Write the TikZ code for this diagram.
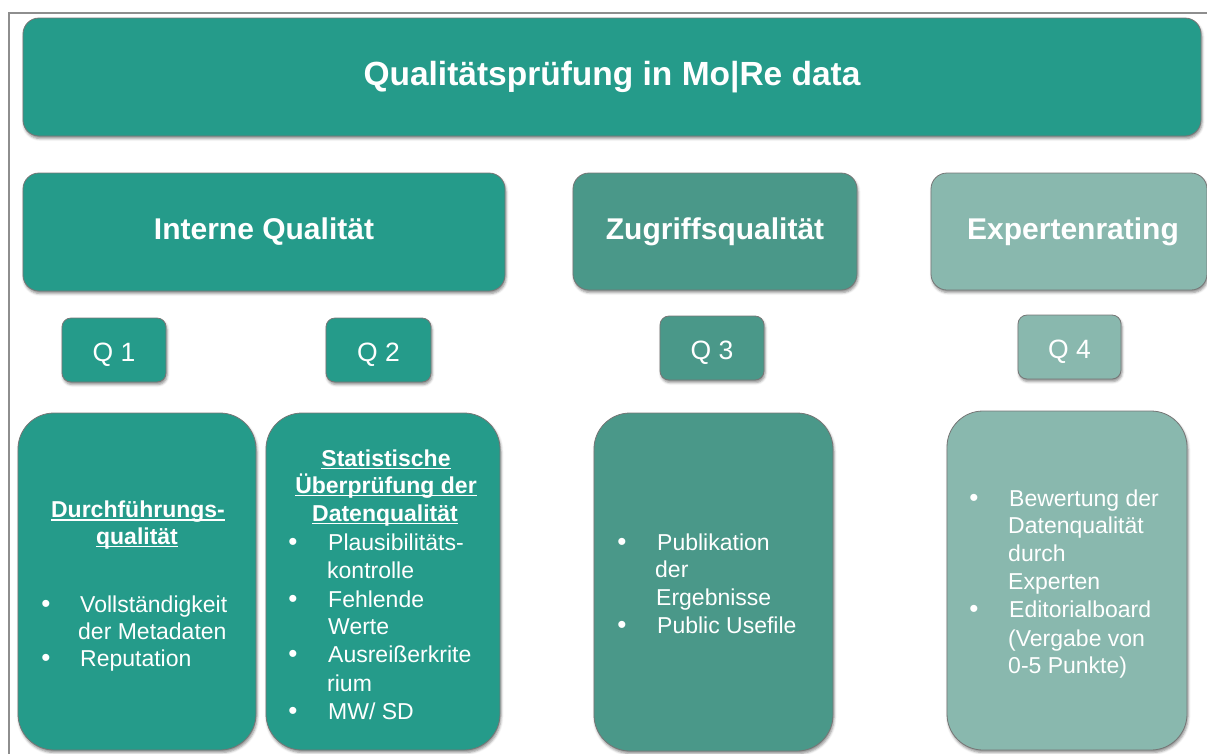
\documentclass[tikz,border=0pt]{standalone}
\usepackage{fontspec}
\setmainfont{Liberation Sans}
\usetikzlibrary{shadows.blur}

\definecolor{tealA}{HTML}{259B8A}
\definecolor{tealB}{HTML}{4A9889}
\definecolor{tealC}{HTML}{89B8AE}
\definecolor{edgegray}{HTML}{767676}
\definecolor{framegray}{HTML}{8E8E8E}

\begin{document}
\begin{tikzpicture}[x=1pt,y=-1pt,
  panel/.style={draw=edgegray, line width=0.8pt, inner sep=0pt,
    blur shadow={shadow xshift=1pt, shadow yshift=-2.5pt,
      shadow blur radius=2.5pt, shadow opacity=45}},
  bigbox/.style={panel, rounded corners=16pt},
  qbox/.style={panel, rounded corners=9pt},
  listbox/.style={panel, rounded corners=36pt},
  headtext/.style={text=white, font=\bfseries\fontsize{30}{36}\selectfont},
  qtext/.style={text=white, font=\fontsize{26.5}{32}\selectfont, text height=23pt, text depth=0pt},
  body/.style={text=white, font=\fontsize{23}{27}\selectfont, anchor=base west, inner sep=0pt},
  bul/.style={text=white, font=\fontsize{26}{30}\selectfont, anchor=base, inner sep=0pt},
  subhead/.style={text=white, font=\bfseries\fontsize{23}{27}\selectfont, anchor=base, inner sep=0pt},
  uline/.style={white, line width=1.5pt}
]
\useasboundingbox (0,0) rectangle (1207,753);
\clip (0,0) rectangle (1207,753);

% outer frame
\draw[framegray, line width=1.3pt] (9,13) rectangle (1240,790);

% title and column headers
\node[bigbox, fill=tealA, minimum width=1178pt, minimum height=118pt, headtext,
  font=\bfseries\fontsize{33.5}{40}\selectfont] (title) at (612,77)
  {Qualitätsprüfung in Mo|Re data};
\node[bigbox, fill=tealA, minimum width=482pt, minimum height=118pt, headtext] (intern) at (264,232) {Interne Qualität};
\node[bigbox, fill=tealB, minimum width=284pt, minimum height=117pt, headtext] (zugriff) at (715,231.5) {Zugriffsqualität};
\node[bigbox, fill=tealC, minimum width=276pt, minimum height=117pt, headtext] (experten) at (1069,231.5) {\hspace*{8pt}Expertenrating};

% Q labels
\node[qbox, fill=tealA, minimum width=104pt, minimum height=64pt, qtext] (q1) at (114,350) {Q 1};
\node[qbox, fill=tealA, minimum width=105pt, minimum height=64pt, qtext] (q2) at (378.5,350) {Q 2};
\node[qbox, fill=tealB, minimum width=104pt, minimum height=64pt, qtext] (q3) at (712,348) {Q 3};
\node[qbox, fill=tealC, minimum width=103pt, minimum height=64pt, qtext] (q4) at (1069.5,347) {Q 4};

% detail boxes
\node[listbox, fill=tealA, minimum width=238pt, minimum height=337pt] (d1) at (137,581.5) {};
\node[listbox, fill=tealA, minimum width=234pt, minimum height=337pt] (d2) at (383,581.5) {};
\node[listbox, fill=tealB, minimum width=239pt, minimum height=338pt] (d3) at (713.5,582) {};
\node[listbox, fill=tealC, minimum width=240pt, minimum height=339pt] (d4) at (1067,580.5) {};

% Q1 details
\node[subhead] (h1a) at (138,517.5) {Durchführungs-};
\node[subhead] (h1b) at (137,544) {qualität};
\draw[uline] ([yshift=-2.5pt]h1a.base west) -- ([yshift=-2.5pt]h1a.base east);
\draw[uline] ([yshift=-2.5pt]h1b.base west) -- ([yshift=-2.5pt]h1b.base east);
\node[bul] (p1a) at (46,612) {•};
\node[body] (t1a) at (80,612) {Vollständigkeit};
\node[body] (t1b) at (78,639) {der Metadaten};
\node[bul] (p1b) at (46,666) {•};
\node[body] (t1c) at (80,666) {Reputation};

% Q2 details
\node[subhead] (h2a) at (386,466) {Statistische};
\node[subhead] (h2b) at (386,493) {Überprüfung der};
\node[subhead] (h2c) at (385,521) {Datenqualität};
\draw[uline] ([yshift=-2.5pt]h2a.base west) -- ([yshift=-2.5pt]h2a.base east);
\draw[uline] ([yshift=-2.5pt]h2b.base west) -- ([yshift=-2.5pt]h2b.base east);
\draw[uline] ([yshift=-2.5pt]h2c.base west) -- ([yshift=-2.5pt]h2c.base east);
\node[bul] (p2a) at (293,550) {•};
\node[body] (t2a) at (328,550) {Plausibilitäts-};
\node[body] (t2b) at (327,578) {kontrolle};
\node[bul] (p2b) at (293,607) {•};
\node[body] (t2c) at (328,607) {Fehlende};
\node[body] (t2d) at (328,634) {Werte};
\node[bul] (p2c) at (293,662) {•};
\node[body] (t2e) at (328,662) {Ausreißerkrite};
\node[body] (t2f) at (327,691) {rium};
\node[bul] (p2d) at (293,719) {•};
\node[body] (t2g) at (328,719) {MW/ SD};

% Q3 details
\node[bul] (p3a) at (622,550) {•};
\node[body] (t3a) at (657,550) {Publikation};
\node[body] (t3b) at (655,577) {der};
\node[body] (t3c) at (656,605) {Ergebnisse};
\node[bul] (p3b) at (622,633) {•};
\node[body] (t3d) at (657,633) {Public Usefile};

% Q4 details
\node[bul] (p4a) at (974,506) {•};
\node[body] (t4a) at (1009,506) {Bewertung der};
\node[body] (t4b) at (1008,533) {Datenqualität};
\node[body] (t4c) at (1008,561) {durch};
\node[body] (t4d) at (1008,589) {Experten};
\node[bul] (p4b) at (974,617) {•};
\node[body] (t4e) at (1009,617) {Editorialboard};
\node[body] (t4f) at (1008,646) {(Vergabe von};
\node[body] (t4g) at (1008,673) {0-5 Punkte)};
\end{tikzpicture}
\end{document}
